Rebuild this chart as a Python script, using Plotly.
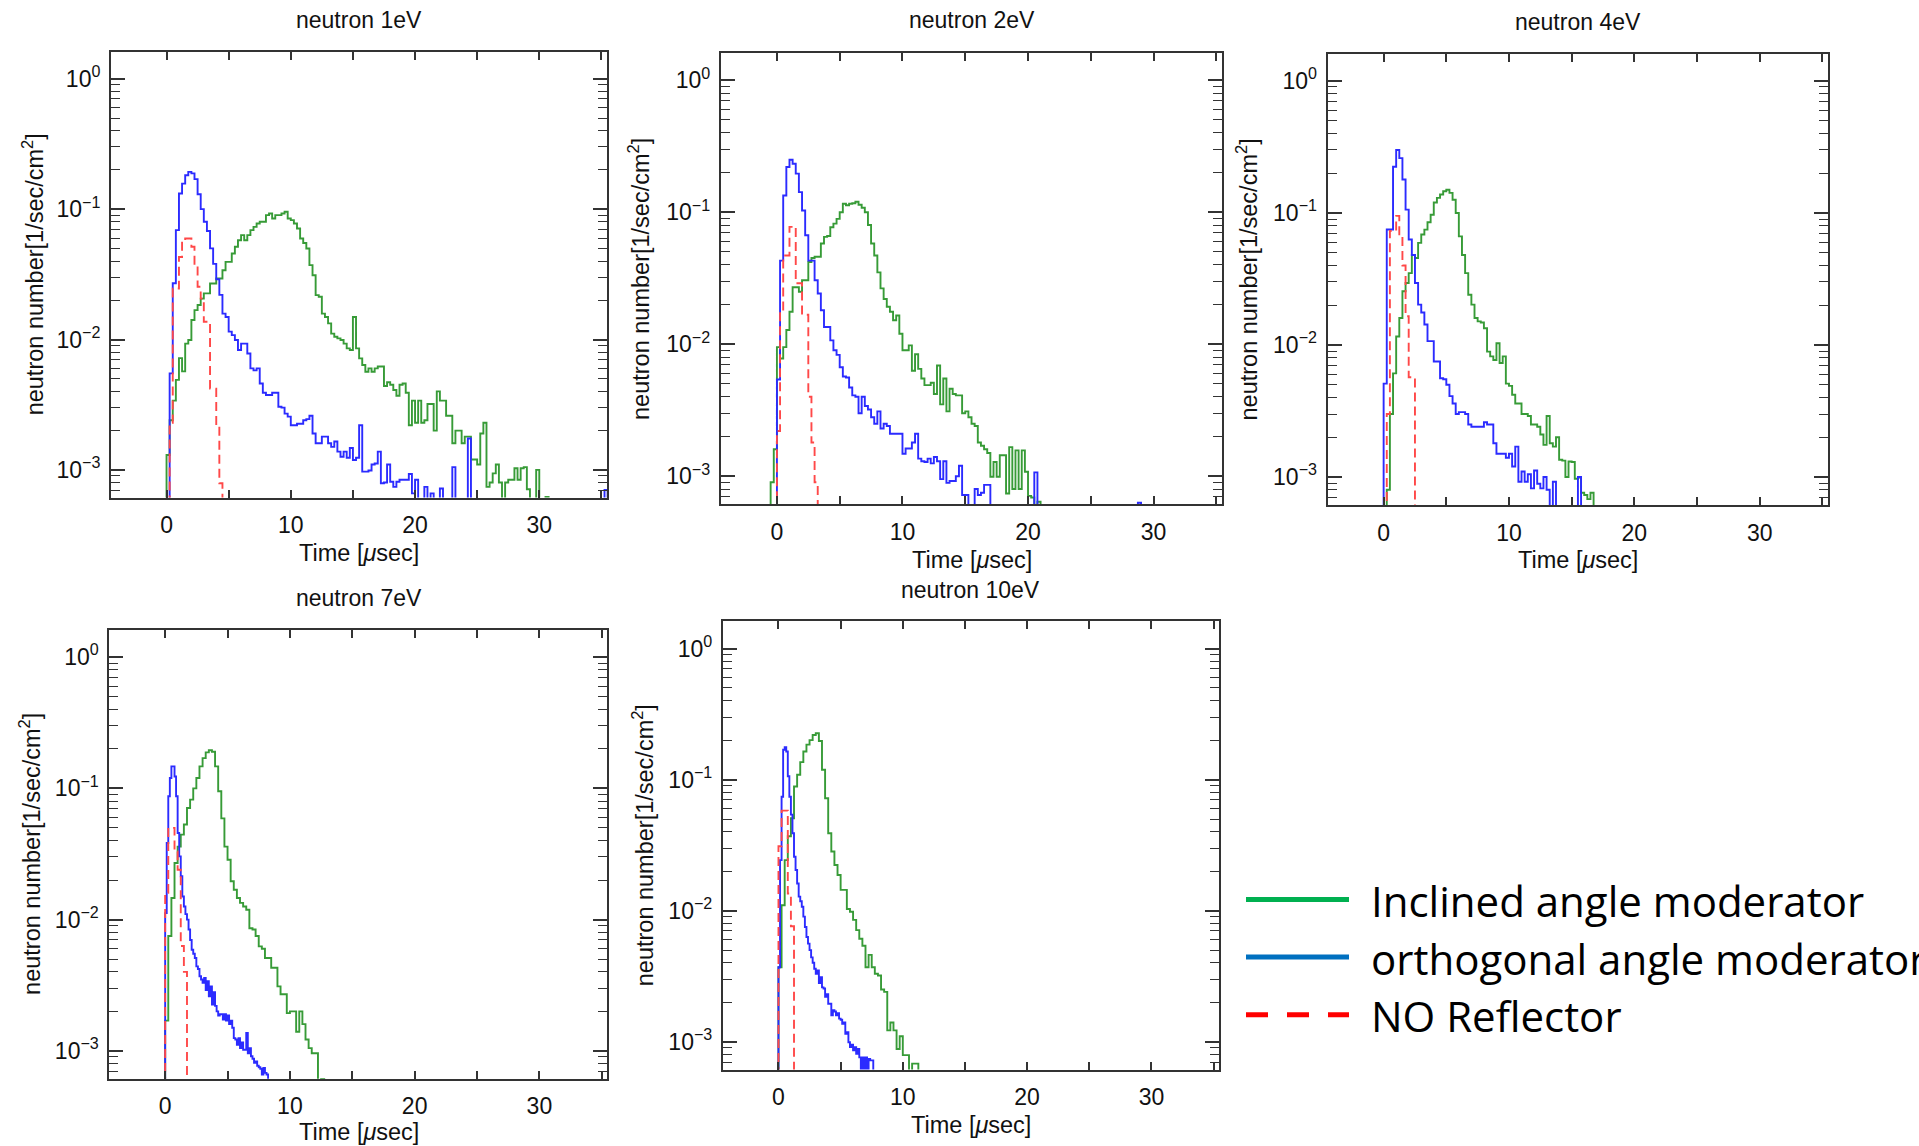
import plotly.graph_objects as go

W, H = 1919, 1146
FLOOR = 1e-7
BIN = 0.25
FINE = 0.125

# ---------------- data (neutron number [1/sec/cm^2] per time bin) ----------------
# each series: list of (bin start [usec], values) segments
GREEN_1EV = [(0.0, [
    0.0013, 0.0024, 0.0034, 0.0049, 0.0072, 0.0057, 0.0093, 0.0099,
    0.0141, 0.0168, 0.0184, 0.0206, 0.0226, 0.0226, 0.0269, 0.0269,
    0.0294, 0.0294, 0.034, 0.0394, 0.0394, 0.0457, 0.0514, 0.0578,
    0.0632, 0.0578, 0.0632, 0.069, 0.0731, 0.0776, 0.08, 0.08,
    0.0899, 0.0925, 0.0847, 0.0899, 0.0899, 0.0925, 0.0954, 0.0847,
    0.0823, 0.0776, 0.071, 0.0596, 0.055, 0.0499, 0.0372, 0.0311,
    0.0219, 0.0213, 0.0158, 0.0149, 0.0133, 0.0111, 0.0105, 0.0102,
    0.0099, 0.0093, 0.00855, 0.0083, 0.0149, 0.00855, 0.00716, 0.00637,
    0.00566, 0.006, 0.00566, 0.006, 0.0062, 0.0062, 0.0044, 0.0047,
    0.0045, 0.0041, 0.0037, 0.0045, 0.0046, 0.0039, 0.0022, 0.0034,
    0.0023, 0.0034, 0.0023, 0.0024, 0.0032, 0.0032, 0.0020, 0.0040,
    0.0034, 0.0034, 0.0026, 0.0026, 0.0016, 0.0020, 0.0020, 0.0016,
    0.0018, 0.0018, 0.0012, 0.0012, 0.0011, 0.0019, 0.0023, 0.00074,
    0.0008, 0.00094, 0.0011, 0.0008, 0, 0.0008, 0.00084, 0.00084,
    0.00103, 0.00084, 0.00103, 0.00105, 0.00071, 0, 0, 0.001,
    0, 0, 0.00062, 0])]
BLUE_1EV = [(0.0, [
    0, 0.0055, 0.027, 0.069, 0.132, 0.157, 0.182, 0.193,
    0.188, 0.17, 0.13, 0.10, 0.08, 0.068, 0.05, 0.038,
    0.029, 0.022, 0.0158, 0.0149, 0.0115, 0.0108, 0.0099, 0.0083,
    0.0093, 0.0093, 0.0078, 0.006, 0.0058, 0.006, 0.0046, 0.0039,
    0.00375, 0.00375, 0.0039, 0.0039, 0.00305, 0.003, 0.0027, 0.00256,
    0.0022, 0.0022, 0.00226, 0.00226, 0.0024, 0.00245, 0.0026, 0.0019,
    0.0016, 0.0016, 0.0018, 0.0018, 0.0016, 0.0015, 0.00165, 0.00138,
    0.00126, 0.00138, 0.00124, 0.00147, 0.00119, 0.00124, 0.0022, 0.00097,
    0.00097, 0.00099, 0.0011, 0.00112, 0.00138, 0.00079, 0.0008, 0.0011,
    0.00081, 0.00074, 0.00081, 0.00084, 0.00084, 0.00084, 0.00093, 0.00066,
    0.00084, 0, 0, 0.00074, 0, 0.00066, 0, 0,
    0.00072, 0, 0, 0, 0.00105, 0, 0, 0,
    0, 0.00174, 0]), (35.25, [0.0007])]
RED_1EV = [(0.0, [
    0, 0.0023, 0.0246, 0.0246, 0.043, 0.058, 0.0596, 0.0596,
    0.0514, 0.0372, 0.0254, 0.0206, 0.0137, 0.0137, 0.0042, 0.0042,
    0.0022, 0.00079, 0])]

GREEN_2EV = [(-0.5, [
    0.0009, 0.0016,
    0.0095, 0.0078, 0.0095, 0.0128, 0.0176, 0.027, 0.027, 0.025,
    0.0305, 0.0305, 0.042, 0.045, 0.046, 0.046, 0.058, 0.065,
    0.066, 0.077, 0.082, 0.089, 0.1, 0.116, 0.113, 0.116,
    0.117, 0.12, 0.114, 0.108, 0.1, 0.08, 0.058, 0.047,
    0.035, 0.0265, 0.022, 0.0192, 0.0176, 0.0152, 0.0165, 0.012,
    0.009, 0.009, 0.0098, 0.0063, 0.0084, 0.0065, 0.0055, 0.0049,
    0.0049, 0.0051, 0.0042, 0.0069, 0.0035, 0.0055, 0.0031, 0.0046,
    0.0042, 0.0041, 0.0041, 0.003, 0.0031, 0.0028, 0.0025, 0.0024,
    0.0018, 0.0017, 0.0016, 0.0015, 0.00099, 0.00128, 0.00099, 0.00144,
    0.00144, 0.00074, 0.00166, 0.0008, 0.00157, 0.0008, 0.00157, 0.00108,
    0.00071, 0.00069, 0, 0.00064, 0])]
BLUE_2EV = [(0.0, [
    0.0054, 0.043, 0.134, 0.22, 0.25, 0.233, 0.196, 0.142,
    0.103, 0.067, 0.043, 0.043, 0.0305, 0.0242, 0.0181, 0.0135,
    0.0135, 0.0107, 0.009, 0.0083, 0.0067, 0.0057, 0.0056, 0.0047,
    0.0041, 0.004, 0.003, 0.004, 0.0034, 0.0032, 0.0028, 0.0025,
    0.0031, 0.0023, 0.0025, 0.0024, 0.0021, 0.0021, 0.0021, 0.0021,
    0.00148, 0.00162, 0.00162, 0.0018, 0.0021, 0.00136, 0.0013, 0.00128,
    0.00136, 0.00125, 0.0014, 0.0013, 0.00095, 0.0013, 0.00089, 0.00092,
    0.00092, 0.001, 0.0012, 0.00072, 0.00072, 0, 0, 0.0008,
    0.00072, 0.00075, 0.00086, 0.00086, 0, 0, 0, 0.0006, 0]),
    (20.5, [0.00107]), (28.75, [0.00063])]
RED_2EV = [(0.0, [
    0.0022, 0.0177, 0.047, 0.047, 0.0775, 0.078, 0.029, 0.029,
    0.0167, 0.0167, 0.004, 0.0018, 0.0009, 0])]

GREEN_4EV = [(0.25, [
    0.0008, 0.003, 0.0061, 0.0116, 0.016, 0.0255, 0.0295,
    0.035, 0.048, 0.0456, 0.0593, 0.0686, 0.0748, 0.085, 0.097,
    0.12, 0.13, 0.138, 0.146, 0.15, 0.142, 0.126, 0.1,
    0.0665, 0.048, 0.035, 0.024, 0.0202, 0.016, 0.0151, 0.0148,
    0.0134, 0.0089, 0.0082, 0.0077, 0.0103, 0.0073, 0.0082, 0.0051,
    0.0049, 0.0042, 0.0036, 0.0036, 0.003, 0.003, 0.0029, 0.0025,
    0.0025, 0.0024, 0.0021, 0.00175, 0.0029, 0.0018, 0.0017, 0.002,
    0.00135, 0.00133, 0.001, 0.00131, 0.0013, 0.00097, 0.00099, 0.00076,
    0.00073, 0.00068, 0.00076, 0])]
BLUE_4EV = [(0.0, [
    0.0051, 0.075, 0.075, 0.224, 0.30, 0.26, 0.179, 0.106,
    0.063, 0.048, 0.0295, 0.0202, 0.0176, 0.0143, 0.0107, 0.0107,
    0.0075, 0.0075, 0.0056, 0.0055, 0.005, 0.0041, 0.0036, 0.003,
    0.0031, 0.0031, 0.003, 0.0025, 0.0024, 0.0024, 0.0024, 0.0024,
    0.0026, 0.0025, 0.0025, 0.0018, 0.0015, 0.0015, 0.0015, 0.0014,
    0.0015, 0.0012, 0.0017, 0.00092, 0.0011, 0.00092, 0.00105, 0.00082,
    0.00112, 0.00089, 0.00082, 0.001, 0.0008, 0, 0.00092, 0]),
    (15.5, [0.001])]
RED_4EV = [(0.25, [
    0.003, 0.073, 0.073, 0.095, 0.069, 0.04, 0.0165, 0.0057, 0.0057, 0])]

GREEN_7EV = [(0.0, [
    0.0017, 0.0075, 0.0146, 0.027, 0.036, 0.0444, 0.053, 0.0708,
    0.082, 0.1, 0.12, 0.147, 0.17, 0.188, 0.195, 0.19,
    0.147, 0.095, 0.059, 0.036, 0.0286, 0.0196, 0.0169, 0.0146,
    0.0134, 0.0126, 0.0119, 0.0086, 0.0084, 0.0075, 0.00625, 0.006,
    0.0051, 0.0051, 0.0043, 0.0043, 0.0031, 0.0027, 0.0027, 0.00194,
    0.002, 0.002, 0.0014, 0.002, 0.0016, 0.00122, 0.00105, 0.00096,
    0.00096, 0, 0.00061, 0])]
BLUE_7EV = [(0.0, [  # 0.125 usec bins
    0.0112, 0.0383, 0.087, 0.12, 0.147, 0.147, 0.123, 0.087,
    0.0457, 0.0303, 0.0214, 0.015, 0.0126, 0.011, 0.01, 0.0084,
    0.007, 0.0059, 0.0055, 0.0051, 0.0044, 0.0042, 0.0037, 0.0035,
    0.0033, 0.0036, 0.0029, 0.0034, 0.0026, 0.0031, 0.00225, 0.0028,
    0.0022, 0.002, 0.00186, 0.0019, 0.0019, 0.00173, 0.0019, 0.0017,
    0.00186, 0.0016, 0.0017, 0.0015, 0.00125, 0.00122, 0.00111, 0.00125,
    0.00105, 0.00116, 0.00102, 0.00102, 0.00137, 0.00096, 0.00105, 0.00091,
    0.00087, 0.00081, 0.00083, 0.00077, 0.00075, 0.00073, 0.00066, 0.00074,
    0.00068, 0.00066, 0])]
RED_7EV = [(0.0, [0.016, 0.05, 0.05, 0.033, 0.024, 0.0063, 0.004, 0])]

GREEN_10EV = [(0.0, [
    0.0037, 0.011, 0.0243, 0.037, 0.0507, 0.0885, 0.109, 0.136,
    0.164, 0.185, 0.2, 0.219, 0.226, 0.197, 0.119, 0.072,
    0.039, 0.0283, 0.0223, 0.0187, 0.0144, 0.0144, 0.0103, 0.0098,
    0.0085, 0.0071, 0.0061, 0.0054, 0.0037, 0.0046, 0.0037, 0.0033,
    0.0032, 0.0025, 0.0024, 0.00122, 0.0014, 0.00122, 0.00088, 0.0011,
    0.00079, 0.00079, 0, 0.00068, 0.00068, 0])]
BLUE_10EV = [(0.0, [  # 0.125 usec bins
    0.0037, 0.0243, 0.074, 0.169, 0.177, 0.164, 0.106, 0.074,
    0.054, 0.039, 0.0258, 0.0204, 0.0161, 0.0128, 0.0118, 0.0107,
    0.009, 0.0075, 0.0063, 0.0056, 0.005, 0.0044, 0.004, 0.0036,
    0.0033, 0.0035, 0.0028, 0.0031, 0.0026, 0.00255, 0.0022, 0.0023,
    0.00195, 0.00195, 0.00159, 0.00174, 0.0017, 0.00159, 0.00165, 0.0015,
    0.00147, 0.00137, 0.0014, 0.00115, 0.00118, 0.00099, 0.00091, 0.00095,
    0.00086, 0.00091, 0.00081, 0.00088, 0.00076, 0, 0.00076, 0,
    0.00076, 0, 0.00074, 0.00072, 0.00072, 0])]
RED_10EV = [(0.0, [0.031, 0.058, 0.058, 0.0135, 0.0076, 0])]

PANEL_TITLES = ["neutron 1eV", "neutron 2eV", "neutron 4eV", "neutron 7eV", "neutron 10eV"]
SERIES_NAMES = ["Inclined angle moderator", "orthogonal angle moderator", "NO Reflector"]
X_TICKS = [0, 10, 20, 30]
X_TICKTEXT = ["0", "10", "20", "30"]
X_MINOR_TICKS = [5, 15, 25, 35]
Y_TICKS = [1e-3, 1e-2, 1e-1, 1]
Y_TICKTEXT = ["10<sup>\u22123</sup>", "10<sup>\u22122</sup>", "10<sup>\u22121</sup>", "10<sup>0</sup>"]
X_RANGE = [-4.47, 35.45]
Y_RANGE = [-3.212, 0.207]

# ---------------- layout geometry (pixels) ----------------
PANELS = [
    dict(box=(111, 607, 51.8, 497.5), title=(359, 20.3), xt=(359, 553), ytx=32.7,
         data=(GREEN_1EV, BIN, BLUE_1EV, BIN, RED_1EV, BIN)),
    dict(box=(720.8, 1222, 52.9, 504.2), title=(972, 20.3), xt=(972, 560.4), ytx=638.4,
         data=(GREEN_2EV, BIN, BLUE_2EV, BIN, RED_2EV, BIN)),
    dict(box=(1327.6, 1828, 53.6, 505), title=(1578, 22), xt=(1578, 560.4), ytx=1247.2,
         data=(GREEN_4EV, BIN, BLUE_4EV, BIN, RED_4EV, BIN)),
    dict(box=(109.4, 607.4, 629.9, 1078.7), title=(359, 597.5), xt=(359, 1131.5), ytx=30.6,
         data=(GREEN_7EV, BIN, BLUE_7EV, FINE, RED_7EV, BIN)),
    dict(box=(722.9, 1219.2, 621.4, 1069.5), title=(971, 590), xt=(971, 1124.6), ytx=643.8,
         data=(GREEN_10EV, BIN, BLUE_10EV, FINE, RED_10EV, BIN)),
]

GREEN, BLUE, RED = "#379b37", "#2b2bff", "#ff4848"
AXC = "#333333"
FONT = "Liberation Sans"


def step_xy(segments, width):
    xs, ys = [], []
    for start, vals in segments:
        xs.append(start)
        ys.append(FLOOR)
        for i, v in enumerate(vals):
            xs.append(start + i * width)
            ys.append(v if v > 0 else FLOOR)
        xs.append(start + len(vals) * width)
        ys.append(FLOOR)
    return xs, ys


def px(x):
    return x / W


def py(y):
    return 1 - y / H


minor_vals = [m * 10.0 ** k for k in range(-4, 1) for m in range(2, 10)]

fig = go.Figure()
annotations = []
for i, p in enumerate(PANELS):
    n = "" if i == 0 else str(i + 1)
    xa, ya = "x" + n, "y" + n
    g, gw, b, bw, r, rw = p["data"]
    for segs, w, col, dash, name in ((g, gw, GREEN, "solid", SERIES_NAMES[0]),
                                     (b, bw, BLUE, "solid", SERIES_NAMES[1]),
                                     (r, rw, RED, "9px,5px", SERIES_NAMES[2])):
        xs, ys = step_xy(segs, w)
        fig.add_trace(go.Scatter(x=xs, y=ys, mode="lines", line_shape="hv", name=name,
                                 line=dict(color=col, width=1.9, dash=dash),
                                 showlegend=False, xaxis=xa, yaxis=ya, hoverinfo="skip"))
    x0, x1, y0, y1 = p["box"]
    common = dict(showline=True, linecolor=AXC, linewidth=2, mirror="allticks",
                  ticks="inside", tickcolor=AXC, tickwidth=1.5, showgrid=False,
                  zeroline=False, tickfont=dict(family=FONT, size=23, color="#111"))
    fig.update_layout(**{
        ("xaxis" + n): dict(common, domain=[px(x0), px(x1)], anchor=ya, range=X_RANGE,
                            tickmode="array", tickvals=X_TICKS, ticktext=X_TICKTEXT,
                            ticklen=8, ticklabelstandoff=6,
                            minor=dict(tickmode="array", tickvals=X_MINOR_TICKS, ticks="inside",
                                       ticklen=8, tickwidth=1.5, tickcolor=AXC,
                                       showgrid=False)),
        ("yaxis" + n): dict(common, domain=[py(y1), py(y0)], anchor=xa, type="log",
                            range=Y_RANGE, tickmode="array", tickvals=Y_TICKS,
                            ticktext=Y_TICKTEXT, ticklen=14, ticklabelstandoff=4,
                            minor=dict(tickmode="array", tickvals=minor_vals, ticks="inside",
                                       ticklen=9, tickwidth=1.2, tickcolor=AXC,
                                       showgrid=False)),
    })
    annotations.append(dict(text=PANEL_TITLES[i], x=px(p["title"][0]), y=py(p["title"][1]),
                            xref="paper", yref="paper", xanchor="center", yanchor="middle",
                            showarrow=False, font=dict(family=FONT, size=23, color="#111")))
    annotations.append(dict(text="Time [<i>\u03bc</i>sec]", x=px(p["xt"][0]), y=py(p["xt"][1]),
                            xref="paper", yref="paper", xanchor="center", yanchor="middle",
                            showarrow=False, font=dict(family=FONT, size=23.5, color="#111")))
    annotations.append(dict(text="neutron number[1/sec/cm<sup>2</sup>]", textangle=-90,
                            x=px(p["ytx"]), y=py((y0 + y1) / 2), xref="paper", yref="paper",
                            xanchor="center", yanchor="middle", showarrow=False,
                            font=dict(family=FONT, size=23.5, color="#111")))

# legend (drawn as lines + text, like the slide)
LEG_ROWS = [(899.6, "#00b050", "solid"), (957.0, "#0070c0", "solid"), (1014.7, "#ff0000", "22px,19px")]
shapes = []
for (yrow, col, dash), label in zip(LEG_ROWS, SERIES_NAMES):
    shapes.append(dict(type="line", xref="paper", yref="paper", x0=px(1246), x1=px(1349),
                       y0=py(yrow), y1=py(yrow), line=dict(color=col, width=5, dash=dash)))
    annotations.append(dict(text=label, x=px(1369), y=py(yrow + 1), xref="paper", yref="paper",
                            xanchor="left", yanchor="middle", showarrow=False,
                            font=dict(family="Open Sans", size=42, color="#000")))

fig.update_layout(width=W, height=H, margin=dict(l=0, r=0, t=0, b=0),
                  paper_bgcolor="white", plot_bgcolor="white", showlegend=False,
                  annotations=annotations, shapes=shapes,
                  font=dict(family=FONT, color="#111"))

fig.write_html("out.html")
